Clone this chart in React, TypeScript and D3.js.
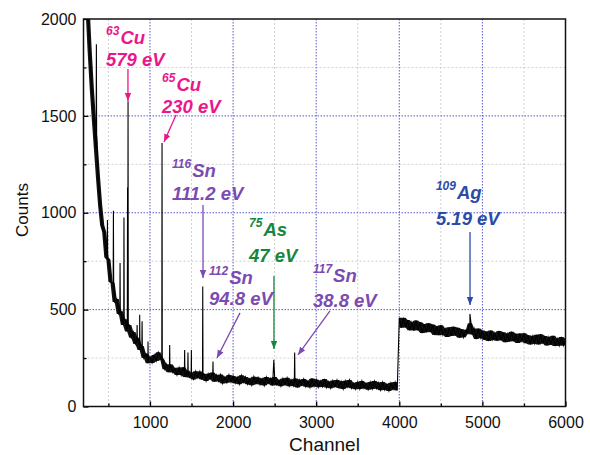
import React, { useEffect, useRef } from "react";
import * as d3 from "d3";

// background spectrum, one value every 25 channels starting at channel 200
const bgStart = 200;
const bgStep = 25;
const bgCounts = [
  // 200 - 1175
  2700, 2350, 2050, 1830, 1640, 1480, 1330, 1180, 1040, 935, 900, 770, 758, 644, 637, 540, 555, 477, 492, 421,
  450, 387, 421, 355, 384, 323, 355, 292, 312, 250, 273, 223, 255, 225, 266, 235, 280, 255, 240, 192,
  // 1200 - 1975
  218, 177, 217, 176, 197, 162, 201, 162, 202, 152, 185, 150, 173, 140, 182, 149, 181, 139, 168, 131,
  169, 142, 175, 128, 162, 130, 165, 119, 151, 123, 163, 126,
  // 2000 - 2975
  158, 120, 151, 115, 161, 125, 152, 115, 143, 110, 154, 118, 150, 113, 143, 108, 152, 120, 145, 108,
  152, 111, 135, 105, 145, 112, 148, 105, 137, 106, 144, 98, 137, 110, 142, 102, 131, 98, 145, 104,
  // 3000 - 3975
  139, 99, 132, 102, 142, 98, 128, 94, 134, 102, 137, 96, 129, 90, 133, 101, 137, 94, 120, 89,
  127, 90, 132, 94, 120, 87, 126, 90, 131, 93, 122, 84, 126, 86, 115, 80, 122, 89, 126, 83,
  // 4000 - 6000
  458, 406, 458, 408, 446, 393, 434, 392, 444, 393, 435, 379, 425, 383, 430, 384, 423, 369, 414, 368,
  420, 370, 402, 359, 409, 364, 412, 366, 407, 355, 399, 357, 393, 377, 430, 372, 402, 348, 402, 355,
  392, 344, 386, 338, 392, 345, 379, 339, 390, 342, 383, 332, 375, 335, 386, 337, 376, 328, 377, 337,
  378, 327, 368, 320, 363, 325, 370, 320, 373, 326, 364, 315, 358, 319, 365, 312, 350, 314, 359, 315,
  348,
];
// detector gain switch: the background jumps here
const jumpChannel = 4000;

// narrow lines on top of the background
const peakChannels = [355, 488, 560, 640, 687, 730, 736, 845, 876, 905, 976, 1145, 1237, 1417, 1457, 1498, 1635, 1758, 2490, 2741, 4850];
const peakCounts = [1870, 963, 1010, 740, 975, 1130, 1575, 421, 473, 440, 335, 1360, 318, 292, 279, 292, 619, 232, 241, 279, 478];
const peakWidths = [3, 3, 3, 3, 3, 3, 3, 3, 3, 3, 3, 3, 3, 3, 3, 3, 3, 3, 12, 4, 20];

const xMajor = [1000, 2000, 3000, 4000, 5000, 6000];
const xMinor = [500, 1500, 2500, 3500, 4500, 5500];
const yMajor = [0, 500, 1000, 1500, 2000];
const yMinor = [250, 750, 1250, 1750];

// annotations
const isotopes = ["63", "65", "116", "112", "75", "117", "109"];
const elements = ["Cu", "Cu", "Sn", "Sn", "As", "Sn", "Ag"];
const energies = ["579 eV", "230 eV", "111.2 eV", "94.8 eV", "47 eV", "38.8 eV", "5.19 eV"];
const labelColors = ["#ec168c", "#ec168c", "#7a4bb0", "#7a4bb0", "#15873a", "#7a4bb0", "#2b4ba6"];
const labelChannels = [471, 1145, 1265, 1710, 2192, 2961, 4441];
const labelCounts = [1871, 1628, 1185, 632, 880, 643, 1071];
const labelGaps = [22, 22, 23, 21, 26, 25, 26];
const arrowFrom = [[735, 1742], [1313, 1505], [1638, 1040], [2083, 483], [2492, 674], [3166, 493], [4851, 901]];
const arrowTo = [[735, 1577], [1169, 1365], [1638, 663], [1806, 250], [2492, 297], [2781, 266], [4851, 524]];

const FONT = "'Liberation Sans', Arial, sans-serif";

export default function App() {
  const ref = useRef<SVGSVGElement>(null);

  useEffect(() => {
    const svg = d3.select(ref.current);
    svg.selectAll("*").remove();

    const left = 83.5, right = 565.5, top = 19, bottom = 406.5;
    const x = d3.scaleLinear().domain([200, 6000]).range([left, right]);
    const y = d3.scaleLinear().domain([0, 2000]).range([bottom, top]);

    // grid
    const grid = svg.append("g");
    xMinor.forEach((v) => {
      grid.append("line").attr("x1", x(v)).attr("x2", x(v)).attr("y1", top).attr("y2", bottom)
        .attr("stroke", "#cfcfcf").attr("stroke-dasharray", "2,2");
    });
    yMinor.forEach((v) => {
      grid.append("line").attr("x1", left).attr("x2", right).attr("y1", y(v)).attr("y2", y(v))
        .attr("stroke", "#cfcfcf").attr("stroke-dasharray", "2,2");
    });
    xMajor.filter((v) => v < 6000).forEach((v) => {
      grid.append("line").attr("x1", x(v)).attr("x2", x(v)).attr("y1", top).attr("y2", bottom)
        .attr("stroke", "#5a5ad0").attr("stroke-dasharray", "1.5,1.5");
    });
    yMajor.filter((v) => v > 0 && v < 2000).forEach((v) => {
      grid.append("line").attr("x1", left).attr("x2", right).attr("y1", y(v)).attr("y2", y(v))
        .attr("stroke", "#5a5ad0").attr("stroke-dasharray", "1.5,1.5");
    });

    svg.append("clipPath").attr("id", "plotClip")
      .append("rect").attr("x", left).attr("y", top).attr("width", right - left).attr("height", bottom - top);
    const plot = svg.append("g").attr("clip-path", "url(#plotClip)");

    // noise band: fill between neighbouring background samples (no bridging over the jump)
    const bg: [number, number][] = bgCounts.map((c, i) => [bgStart + i * bgStep, c]);
    const segs = [bg.filter((d) => d[0] < jumpChannel), bg.filter((d) => d[0] >= jumpChannel)];
    const band = d3.area<{ ch: number; lo: number; hi: number }>()
      .x((d) => x(d.ch)).y0((d) => y(d.lo)).y1((d) => y(d.hi));
    segs.forEach((seg) => {
      const env = seg.map((d, i) => {
        const nb = [seg[Math.max(0, i - 1)][1], d[1], seg[Math.min(seg.length - 1, i + 1)][1]];
        return { ch: d[0], lo: d3.min(nb) as number, hi: d3.max(nb) as number };
      });
      plot.append("path").datum(env).attr("fill", "#111").attr("d", band);
    });

    // spectrum line: background points plus the narrow peaks
    const pts: [number, number][] = bg.slice();
    peakChannels.forEach((ch, i) => {
      const idx = Math.round((ch - bgStart) / bgStep);
      const lo = bgCounts[Math.max(0, idx - 1)];
      const hi = bgCounts[Math.min(bgCounts.length - 1, idx)];
      const base = (lo + hi) / 2;
      pts.push([ch - peakWidths[i], base]);
      pts.push([ch, peakCounts[i]]);
      pts.push([ch + peakWidths[i], base]);
    });
    pts.sort((a, b) => a[0] - b[0]);

    const line = d3.line<[number, number]>().x((d) => x(d[0])).y((d) => y(d[1]));
    plot.append("path")
      .datum(pts)
      .attr("fill", "none")
      .attr("stroke", "#000")
      .attr("stroke-width", 1.1)
      .attr("d", line);

    // axes
    const fmt = d3.format("d");
    const xAxis = svg.append("g").attr("transform", `translate(0,${bottom})`)
      .call(d3.axisBottom(x).tickValues(xMajor).tickFormat(fmt).tickSizeInner(-5).tickSizeOuter(0).tickPadding(10));
    svg.append("g").attr("transform", `translate(0,${bottom})`)
      .call(d3.axisBottom(x).tickValues(xMinor).tickSizeInner(-3).tickSizeOuter(0).tickFormat(() => ""));
    const yAxis = svg.append("g").attr("transform", `translate(${left},0)`)
      .call(d3.axisLeft(y).tickValues(yMajor).tickFormat(fmt).tickSizeInner(-5).tickSizeOuter(0).tickPadding(7));
    svg.append("g").attr("transform", `translate(${left},0)`)
      .call(d3.axisLeft(y).tickValues(yMinor).tickSizeInner(-3).tickSizeOuter(0).tickFormat(() => ""));
    svg.selectAll(".domain").remove();
    svg.selectAll(".tick line").attr("stroke", "#000").attr("stroke-width", 1.3);
    [xAxis, yAxis].forEach((a) => a.selectAll("text").attr("font-size", 16).attr("font-family", FONT).attr("fill", "#111"));

    // frame
    svg.append("rect").attr("x", left).attr("y", top).attr("width", right - left).attr("height", bottom - top)
      .attr("fill", "none").attr("stroke", "#111").attr("stroke-width", 1.5);

    // axis titles
    svg.append("text").attr("x", (left + right) / 2).attr("y", 451).attr("text-anchor", "middle")
      .attr("font-family", FONT).attr("font-size", 19).attr("fill", "#111").text("Channel");
    svg.append("text").attr("transform", "translate(28,210) rotate(-90)").attr("text-anchor", "middle")
      .attr("font-family", FONT).attr("font-size", 17).attr("fill", "#111").text("Counts");

    // arrow markers
    const defs = svg.append("defs");
    labelColors.forEach((c, i) => {
      defs.append("marker").attr("id", "arr" + i)
        .attr("viewBox", "0 0 10 8").attr("refX", 10).attr("refY", 4)
        .attr("markerWidth", 8).attr("markerHeight", 7)
        .attr("markerUnits", "userSpaceOnUse").attr("orient", "auto")
        .append("path").attr("d", "M0,0 L10,4 L0,8 Z").attr("fill", c);
    });

    // annotations
    isotopes.forEach((iso, i) => {
      const g = svg.append("g").attr("fill", labelColors[i]).attr("font-family", FONT)
        .attr("font-weight", "bold").attr("font-style", "italic");
      const t = g.append("text").attr("x", x(labelChannels[i])).attr("y", y(labelCounts[i]));
      t.append("tspan").attr("font-size", 12).attr("dy", -9).text(iso);
      t.append("tspan").attr("font-size", 18.5).attr("dy", 9).attr("dx", 1).text(elements[i]);
      g.append("text").attr("x", x(labelChannels[i])).attr("y", y(labelCounts[i]) + labelGaps[i])
        .attr("font-size", 18.5).text(energies[i]);
      svg.append("line")
        .attr("x1", x(arrowFrom[i][0])).attr("y1", y(arrowFrom[i][1]))
        .attr("x2", x(arrowTo[i][0])).attr("y2", y(arrowTo[i][1]))
        .attr("stroke", labelColors[i]).attr("stroke-width", 1.3)
        .attr("marker-end", `url(#arr${i})`);
    });
  }, []);

  return (
    <svg ref={ref} width={590} height={455}
      style={{ position: "absolute", left: 0, top: 0, background: "#fff" }} />
  );
}
